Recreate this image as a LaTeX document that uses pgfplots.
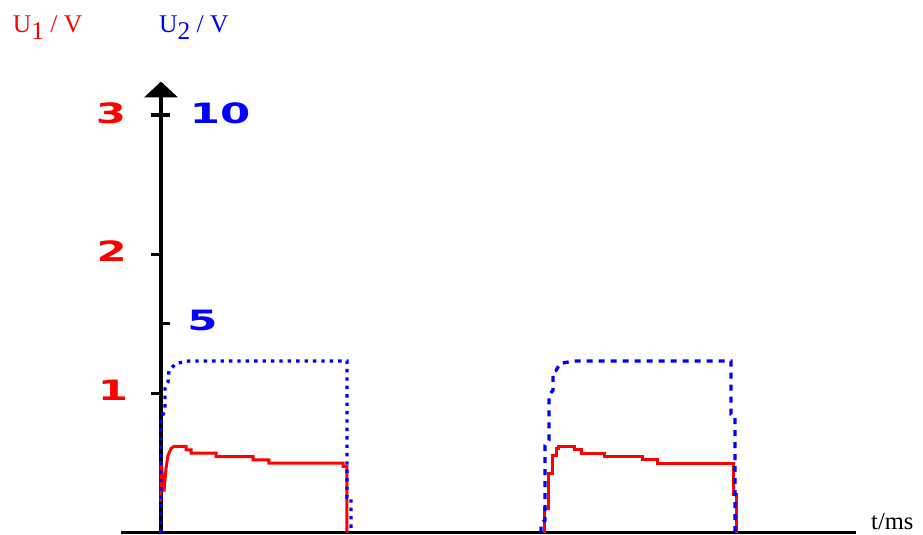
\documentclass[border=0pt]{standalone}
\usepackage{pgfplots}
\pgfplotsset{compat=1.18}
\usepackage{graphicx}
\usepackage{fontspec}
\setmainfont{Liberation Serif}
\newfontfamily\tickfont{DejaVu Sans}

% wide bold digits used for the scale numbers
\newcommand\scalenum[1]{\scalebox{1.55}[1]{\tickfont\bfseries\fontsize{28}{28}\selectfont #1}}

\begin{document}
\begin{tikzpicture}
\useasboundingbox (0,0) rectangle (923pt,-535pt);
\begin{axis}[
  at={(0,0)}, anchor=north west,
  scale only axis, width=923pt, height=535pt,
  xmin=-0.8429, xmax=3.9895,
  ymin=-0.0172, ymax=3.8261,
  hide axis, clip=false,
]
% time axis and voltage axis
\addplot[black, line width=3.3pt] coordinates {(-0.2094,0) (3.6387,0)};
\addplot[black, line width=4pt] coordinates {(0,0) (0,3.14)};
\fill[black] (axis cs:-0.089,3.126) -- (axis cs:0.089,3.126) -- (axis cs:0,3.24) -- cycle;
% U1 ticks (left) and U2 ticks (right)
\addplot[black, line width=3.3pt] coordinates {(-0.052,3) (0.047,3)};
\addplot[black, line width=3.3pt] coordinates {(-0.052,2) (0,2)};
\addplot[black, line width=3.3pt] coordinates {(-0.052,1) (0,1)};
\addplot[black, line width=3.3pt] coordinates {(0,1.5) (0.047,1.5)};

% U1, first pulse
\addplot[red, line width=3pt] coordinates {
 (0,0.223) (0,0.511) (0.0157,0.295) (0.0262,0.460) (0.0366,0.554) (0.0524,0.604)
 (0.0681,0.619) (0.1309,0.619) (0.1309,0.594) (0.1571,0.594) (0.1571,0.571)
 (0.2880,0.571) (0.2880,0.545) (0.4817,0.545) (0.4817,0.522) (0.5654,0.522)
 (0.5654,0.499) (0.9529,0.499) (0.9529,0.475) (0.9738,0.475) (0.9738,0)
};
% U1, second pulse
\addplot[red, line width=3pt] coordinates {
 (2.0052,0) (2.0052,0.173) (2.0262,0.173) (2.0262,0.424) (2.0471,0.424)
 (2.0471,0.554) (2.0681,0.554) (2.0681,0.604) (2.0785,0.604) (2.0785,0.619)
 (2.1623,0.619) (2.1623,0.594) (2.1990,0.594) (2.1990,0.571) (2.3194,0.571)
 (2.3194,0.545) (2.5183,0.545) (2.5183,0.522) (2.5969,0.522) (2.5969,0.499)
 (2.9948,0.499) (2.9948,0.273) (3.0105,0.273) (3.0105,0)
};

% U2 (10 V of U2 = 3 V of U1 on the common scale)
\addplot[blue, line width=3.3pt, dash pattern=on 3.4pt off 5pt, y filter/.expression={0.3*y}] coordinates {
 (0,0) (0,2.73) (0.0209,2.93) (0.0209,3.45) (0.0366,3.60) (0.0419,3.88)
 (0.0785,4.05) (0.1466,4.11) (0.9738,4.11) (0.9738,0.84) (0.9948,0.84) (0.9948,0)
};
\addplot[blue, line width=3.3pt, dash pattern=on 6pt off 6pt, y filter/.expression={0.3*y}] coordinates {
 (1.9895,0) (1.9895,0.24) (2.0105,0.29) (2.0105,2.09) (2.0314,2.21) (2.0314,3.29)
 (2.0524,3.41) (2.0524,3.84) (2.0681,3.88) (2.0890,4.05) (2.1623,4.11)
 (2.9843,4.11) (2.9843,2.83) (3.0052,2.78) (3.0052,0)
};
\end{axis}

% axis titles
\node[anchor=base west, inner sep=0, text=red, font=\fontsize{25.5}{25.5}\selectfont]
  at (12.7pt,-33pt) {U\raisebox{-7pt}{1} / V};
\node[anchor=base west, inner sep=0, text=blue, font=\fontsize{25.5}{25.5}\selectfont]
  at (159pt,-33pt) {U\raisebox{-7pt}{2} / V};
\node[anchor=base west, inner sep=0, font=\fontsize{24.5}{24.5}\selectfont]
  at (871pt,-529.5pt) {t/ms};

% scale numbers
\node[inner sep=0, text=red] at (111pt,-113.3pt) {\scalenum{3}};
\node[inner sep=0, text=red] at (111.7pt,-251pt) {\scalenum{2}};
\node[inner sep=0, text=red] at (113pt,-390.3pt) {\scalenum{1}};
\node[inner sep=0, text=blue] at (220pt,-113.3pt) {\scalenum{10}};
\node[inner sep=0, text=blue] at (202.5pt,-320.3pt) {\scalenum{5}};
\end{tikzpicture}
\end{document}
